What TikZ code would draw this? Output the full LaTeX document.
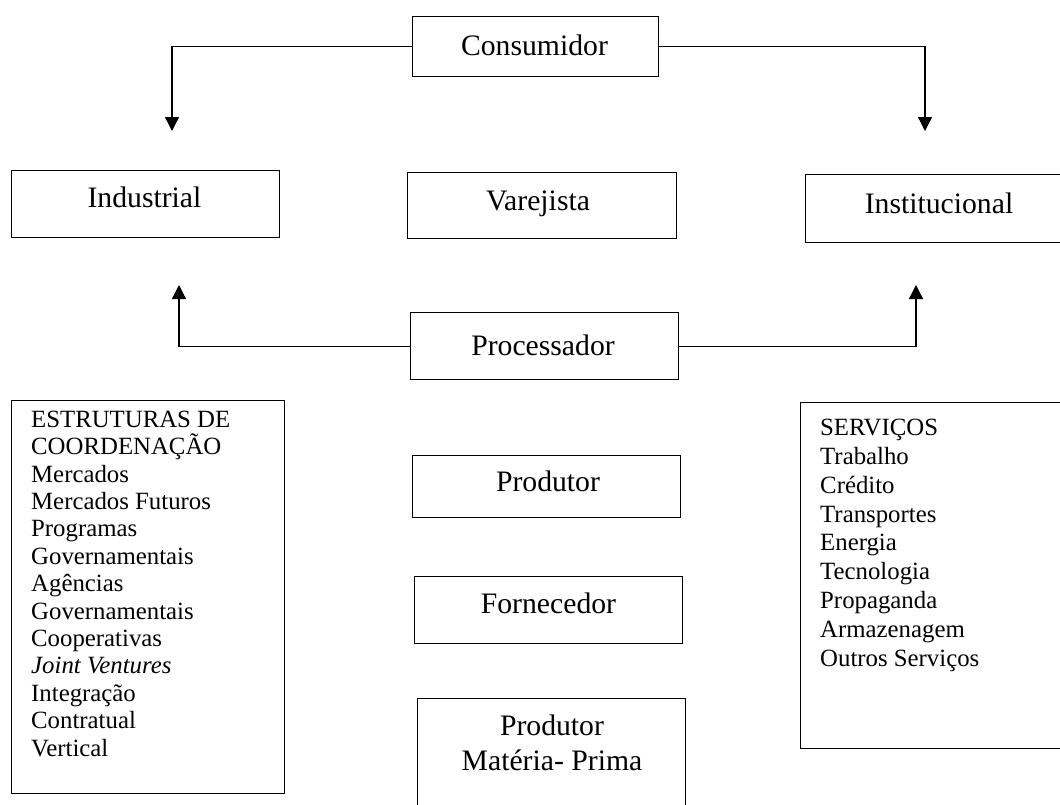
\documentclass[tikz,border=0pt]{standalone}
\usepackage{fontspec}
\setmainfont{Liberation Serif}
\usetikzlibrary{arrows.meta}
\begin{document}
\begin{tikzpicture}[x=1pt,y=-1pt,
  box/.style={draw, line width=1.3pt, inner sep=0pt, anchor=north west},
  lbl/.style={anchor=base, inner sep=0pt, font=\fontsize{29.7}{35}\selectfont},
  conn/.style={line width=1.3pt},
  arr/.style={conn, -{Triangle[width=14pt,length=14pt]}},
  listtxt/.style={anchor=base west, align=left, inner sep=0pt}
]
\clip (0,0) rectangle (1060,804);
% boxes
\node[box, minimum width=246, minimum height=60] (cons) at (412,16) {};
\node[box, minimum width=268, minimum height=67] (ind) at (11,170) {};
\node[box, minimum width=269, minimum height=66] (var) at (407,172) {};
\node[box, minimum width=265, minimum height=68] (inst) at (805,174) {};
\node[box, minimum width=268, minimum height=67] (proc) at (410,312) {};
\node[box, minimum width=268, minimum height=62] (prod) at (412,455) {};
\node[box, minimum width=268, minimum height=67] (forn) at (414,576) {};
\node[box, minimum width=268, minimum height=130] (pmp) at (417,698) {};
\node[box, minimum width=273, minimum height=393] (coord) at (11,400) {};
\node[box, minimum width=270, minimum height=346] (serv) at (800,402) {};
% labels
\node[lbl] (cons-t) at (534.5,55) {Consumidor};
\node[lbl] (ind-t) at (144.5,207) {Industrial};
\node[lbl] (var-t) at (538,210) {Varejista};
\node[lbl] (inst-t) at (939,213) {Institucional};
\node[lbl] (proc-t) at (543,355) {Processador};
\node[lbl] (prod-t) at (548,491) {Produtor};
\node[lbl] (forn-t) at (548.5,613) {Fornecedor};
\node[lbl, align=center] (pmp-t) at (552,770) {Produtor\\Matéria- Prima};
\node[listtxt, font=\fontsize{24.8}{27.4}\selectfont] (coord-t) at (31,756) {ESTRUTURAS DE\\COORDENAÇÃO\\Mercados\\Mercados Futuros\\Programas\\Governamentais\\Agências\\Governamentais\\Cooperativas\\\textit{Joint Ventures}\\Integração\\Contratual\\Vertical};
\node[listtxt, font=\fontsize{24.8}{28.8}\selectfont] (serv-t) at (820,666) {SERVIÇOS\\Trabalho\\Crédito\\Transportes\\Energia\\Tecnologia\\Propaganda\\Armazenagem\\Outros Serviços};
% connector end points
\coordinate (ind-in) at (172,131);
\coordinate (inst-in) at (925,131);
\coordinate (ind-up) at (179,285);
\coordinate (inst-up) at (916,285);
% connectors
\draw[arr] (cons.west) -| (ind-in);
\draw[arr] (cons.east) -| (inst-in);
\draw[arr] (proc.west) -| (ind-up);
\draw[arr] (proc.east) -| (inst-up);
\end{tikzpicture}
\end{document}
